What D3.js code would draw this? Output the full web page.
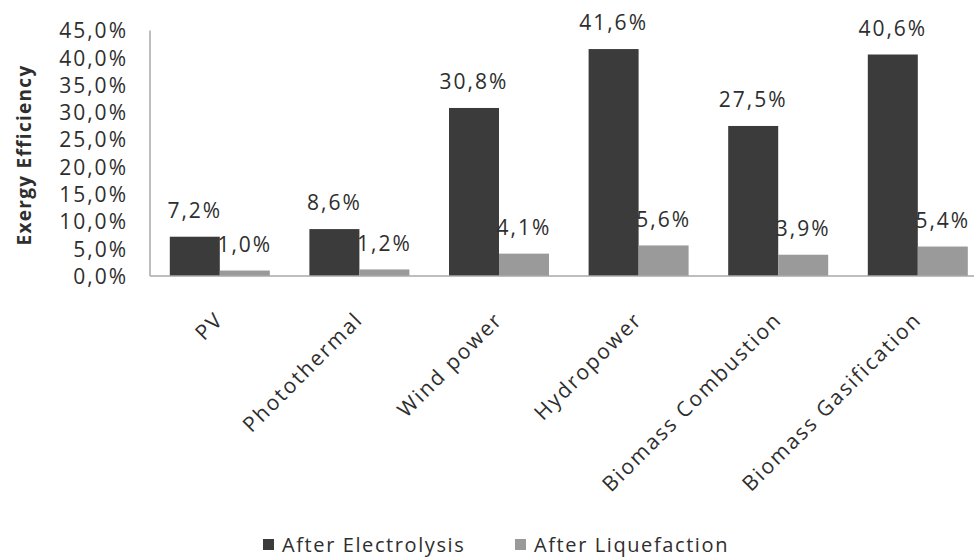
<!DOCTYPE html>
<html>
<head>
<meta charset="utf-8">
<script src="https://cdn.jsdelivr.net/npm/d3@7"></script>
<style>
  html, body { margin: 0; padding: 0; background: #fff; }
  svg { display: block; font-family: "Open Sans", "DejaVu Sans", sans-serif; }
</style>
</head>
<body>
<svg id="chart" width="974" height="560"></svg>
<script>
const categories = ["PV", "Photothermal", "Wind power", "Hydropower", "Biomass Combustion", "Biomass Gasification"];
const seriesNames = ["After Electrolysis", "After Liquefaction"];
const afterElectrolysis = [7.2, 8.6, 30.8, 41.6, 27.5, 40.6];
const afterLiquefaction = [1.0, 1.2, 4.1, 5.6, 3.9, 5.4];
const yTicks = [0, 5, 10, 15, 20, 25, 30, 35, 40, 45];
const colors = ["#3b3b3b", "#9a9a9a"];

const series = [afterElectrolysis, afterLiquefaction];
const data = categories.map((c, i) => ({ cat: c, vals: series.map((s, k) => ({ k, v: s[i] })) }));

const svg = d3.select("#chart");
const fmt = v => v.toFixed(1).replace(".", ",") + "%";
const textColor = "#2e2e2e";
const FS = 21, LS = "2px";

const x0 = d3.scaleBand().domain(categories).range([150, 987.6]).padding(0);
const x1 = d3.scaleBand().domain([0, 1]).range([0, x0.bandwidth()]).paddingOuter(0.396).paddingInner(0);
const y = d3.scaleLinear().domain([0, 45]).range([276, 30.5]);

// y tick labels
const yAxis = d3.axisLeft(y).tickValues(yTicks).tickSize(0).tickPadding(0).tickFormat(fmt);
const gy = svg.append("g").attr("transform", "translate(128,0)").call(yAxis);
gy.select(".domain").remove();
gy.selectAll("text")
  .attr("font-size", FS).attr("fill", textColor).attr("letter-spacing", LS)
  .attr("font-family", "Open Sans").attr("x", 0).attr("dy", "0.35em");

// bars
const groups = svg.append("g").selectAll("g").data(data).join("g")
  .attr("transform", d => `translate(${x0(d.cat)},0)`);
groups.selectAll("rect").data(d => d.vals).join("rect")
  .attr("x", d => x1(d.k)).attr("width", x1.bandwidth())
  .attr("y", d => y(d.v)).attr("height", d => y(0) - y(d.v))
  .attr("fill", d => colors[d.k]);

// value labels
groups.selectAll("text.val").data(d => d.vals).join("text")
  .attr("class", "val")
  .attr("x", d => x1(d.k) + x1.bandwidth() / 2)
  .attr("y", d => y(d.v) - 26)
  .attr("dy", "0.35em")
  .attr("text-anchor", "middle")
  .attr("font-size", FS).attr("letter-spacing", LS).attr("fill", textColor)
  .text(d => fmt(d.v));

// axis lines
svg.append("line").attr("x1", 150).attr("x2", 150).attr("y1", y(45)).attr("y2", y(0))
  .attr("stroke", "#a8a8a8").attr("stroke-width", 1.5);
svg.append("line").attr("x1", 150).attr("x2", 974).attr("y1", y(0)).attr("y2", y(0))
  .attr("stroke", "#a8a8a8").attr("stroke-width", 1.5);

// category labels
svg.append("g").selectAll("text").data(categories).join("text")
  .attr("transform", d => `translate(${x0(d) + x0.bandwidth() / 2 - 7},309) rotate(-45)`)
  .attr("text-anchor", "end").attr("dy", "0.8em")
  .attr("font-size", FS).attr("letter-spacing", LS).attr("fill", textColor)
  .text(d => d);

// y axis title
svg.append("text")
  .attr("transform", "translate(24,155) rotate(-90)")
  .attr("text-anchor", "middle").attr("dy", "0.35em")
  .attr("font-size", 19).attr("font-weight", "bold").attr("letter-spacing", "1.3px")
  .attr("fill", textColor)
  .text("Exergy Efficiency");

// legend
const legendX = [263, 515];
const leg = svg.append("g").selectAll("g").data(seriesNames).join("g")
  .attr("transform", (d, i) => `translate(${legendX[i]},545)`);
leg.append("rect").attr("x", 0).attr("y", -6).attr("width", 11).attr("height", 11)
  .attr("fill", (d, i) => colors[i]);
leg.append("text").attr("x", 19).attr("dy", "0.35em")
  .attr("font-size", 20).attr("letter-spacing", "1.6px").attr("fill", textColor)
  .text(d => d);
</script>
</body>
</html>
